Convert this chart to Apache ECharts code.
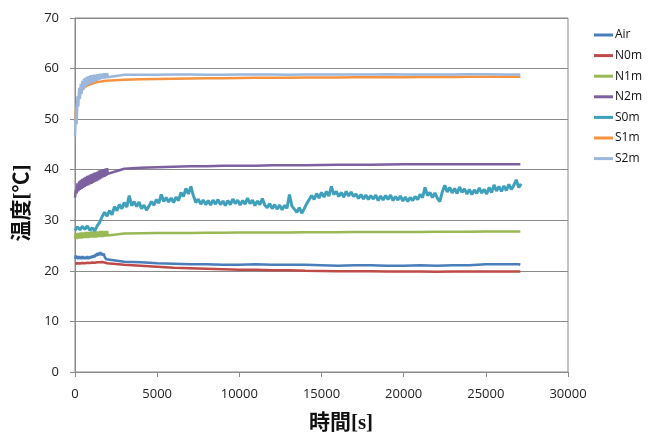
<!DOCTYPE html>
<html>
<head>
<meta charset="utf-8">
<script src="https://cdn.jsdelivr.net/npm/echarts@6/dist/echarts.min.js"></script>
<style>html,body{margin:0;padding:0;background:#fff}#c{width:655px;height:439px}</style>
</head>
<body>
<div id="c"></div>
<script>
// ---- data ----
const seriesNames = ['Air','N0m','N1m','N2m','S0m','S1m','S2m'];
const xTicks = [0,5000,10000,15000,20000,25000,30000];
const yTicks = [0,10,20,30,40,50,60,70];

// early phase sample times [s]
const earlyT = [0,50,100,150,200,250,300,350,400,450,500,550,600,650,700,750,800,850,900,950,1000,
  1050,1100,1150,1200,1250,1300,1350,1400,1450,1500,1550,1600,1650,1700,1750,1800,1850,1900,1950,2000];
// late phase sample times [s]
const lateT = [3000,4000,5000,6000,7000,8000,9000,10000,11000,12000,13000,14000,15000,16000,17000,
  18000,19000,20000,21000,22000,23000,24000,25000,26000,27000,27100];

const airEarly = [22.4,23.0,22.4,22.9,22.3,22.9,22.4,22.8,22.3,22.9,22.4,22.8,22.3,22.8,22.4,22.9,22.3,22.8,22.4,22.9,
  22.5,23.0,22.6,23.1,22.7,23.3,22.9,23.5,23.0,23.6,23.1,23.7,23.1,23.5,23.0,23.4,22.8,22.6,22.3,22.2,22.0];
const airLate = [21.8,21.7,21.5,21.4,21.3,21.3,21.2,21.2,21.3,21.2,21.2,21.2,21.1,21.0,21.1,21.1,21.0,21.0,21.1,21.0,
  21.1,21.1,21.3,21.3,21.3,21.2];

const n0Early = [21.4,21.5,21.4,21.5,21.4,21.5,21.45,21.5,21.45,21.55,21.5,21.55,21.5,21.55,21.5,21.6,21.5,21.6,21.55,21.6,
  21.55,21.65,21.6,21.65,21.6,21.7,21.65,21.7,21.65,21.75,21.7,21.75,21.7,21.75,21.7,21.7,21.65,21.6,21.55,21.5,21.45];
const n0Late = [21.2,21.0,20.8,20.6,20.5,20.4,20.3,20.2,20.2,20.1,20.1,20.0,19.95,19.9,19.9,19.9,19.85,19.85,19.85,19.8,
  19.85,19.85,19.85,19.85,19.85,19.85];

const n1Early = [26.4,27.4,26.3,27.5,26.4,27.5,26.4,27.6,26.4,27.6,26.5,27.6,26.5,27.7,26.5,27.7,26.5,27.7,26.6,27.7,
  26.6,27.8,26.6,27.8,26.6,27.8,26.6,27.8,26.7,27.8,26.7,27.9,26.7,27.9,26.7,27.9,26.8,27.9,26.8,27.9,27.0];
const n1Late = [27.4,27.45,27.5,27.5,27.5,27.55,27.55,27.6,27.6,27.6,27.6,27.65,27.65,27.65,27.7,27.7,27.7,27.7,27.7,27.75,
  27.75,27.75,27.8,27.8,27.8,27.8];

const n2Early = [34.5,36.0,35.3,37.3,35.7,37.7,36.0,38.0,36.2,38.2,36.4,38.4,36.6,38.6,36.8,38.8,36.9,38.9,37.1,39.1,
  37.2,39.2,37.4,39.4,37.6,39.5,37.7,39.6,37.9,39.8,38.1,39.9,38.3,40.0,38.5,40.1,38.6,40.2,38.8,40.3,39.2];
const n2Late = [40.2,40.4,40.5,40.6,40.7,40.7,40.8,40.8,40.8,40.9,40.9,40.9,40.95,41.0,41.0,41.0,41.05,41.1,41.1,41.1,
  41.1,41.1,41.1,41.1,41.1,41.1];

// S0m sampled every 150 s from 0 s
const s0Step = 150;
const s0Vals = [
  28.0,28.7,28.1,28.8,28.2,28.9,28.0,28.5,27.9,28.9,29.6,30.7,31.6,30.8,31.9,31.1,32.7,31.9,33.1,32.3,
  33.5,32.6,34.9,32.9,33.7,32.7,33.6,32.3,33.0,32.0,32.8,33.7,33.0,34.1,33.4,35.1,33.7,34.5,33.6,34.4,
  33.5,34.6,33.9,35.5,34.7,36.3,35.2,36.7,34.9,33.5,34.2,33.2,34.0,33.1,33.9,33.0,34.0,33.2,34.1,33.1,
  33.8,32.9,33.9,33.1,34.2,33.3,34.0,33.0,33.9,33.2,34.4,33.3,34.0,32.9,33.8,33.1,34.3,33.0,32.5,33.3,
  32.3,33.1,32.2,33.0,32.1,32.9,32.4,35.1,32.8,32.2,31.6,32.5,31.4,32.3,33.3,34.1,34.9,34.1,35.3,34.4,
  35.5,34.6,35.7,34.8,36.7,35.1,35.7,34.7,35.5,34.6,35.7,34.8,35.6,34.7,35.2,34.3,35.1,34.2,35.0,34.1,
  34.9,34.2,35.0,33.9,34.8,34.0,34.9,34.1,35.0,33.9,34.7,34.0,34.8,33.8,34.6,33.7,34.5,33.9,34.7,34.1,
  35.1,34.5,36.5,34.9,35.5,34.5,35.4,34.4,33.7,35.6,36.9,35.6,36.5,35.4,36.3,35.3,36.6,35.5,36.2,35.2,
  36.1,35.1,36.0,35.3,36.4,35.4,36.1,35.2,36.5,35.5,37.0,35.8,36.7,35.7,36.8,35.9,37.1,36.1,36.9,38.0,
  36.5,37.2];

const s1Early = [49.5,51.5,52.6,53.6,54.2,54.7,55.0,55.3,55.6,55.8,56.0,56.2,56.3,56.45,56.55,56.65,56.75,56.8,56.9,56.95,
  57.0,57.05,57.1,57.15,57.2,57.25,57.3,57.3,57.35,57.4,57.4,57.45,57.45,57.5,57.5,57.55,57.55,57.6,57.6,57.6,57.65];
const s1Late = [57.8,57.9,57.95,58.0,58.05,58.1,58.1,58.15,58.2,58.2,58.2,58.25,58.25,58.25,58.3,58.3,58.3,58.3,58.35,58.35,
  58.35,58.4,58.4,58.4,58.4,58.4];

const s2Early = [46.6,51.0,49.0,54.5,52.5,56.2,54.0,57.0,55.0,57.6,55.8,58.0,56.2,58.2,56.6,58.4,56.8,58.5,57.0,58.7,
  57.1,58.7,57.2,58.8,57.4,58.8,57.5,58.9,57.7,58.9,57.8,59.0,57.9,59.0,58.0,59.1,58.0,59.1,58.1,59.1,58.3];
const s2Late = [58.8,58.8,58.8,58.85,58.85,58.8,58.8,58.85,58.85,58.85,58.8,58.85,58.85,58.85,58.85,58.85,58.9,58.85,58.85,58.85,
  58.85,58.9,58.9,58.85,58.85,58.85];

const colors = ['#4A7EBB','#BE4B48','#98B954','#7D60A0','#3FA0BB','#F69240','#9BB7DB'];

// ---- build ----
function joinPhases(eV, lV) {
  const out = [];
  eV.forEach((v, i) => out.push([earlyT[i], v]));
  lV.forEach((v, i) => out.push([lateT[i], v]));
  return out;
}
const s0Data = s0Vals.map((v, i) => [i * s0Step, v]);
const dataSets = [
  joinPhases(airEarly, airLate),
  joinPhases(n0Early, n0Late),
  joinPhases(n1Early, n1Late),
  joinPhases(n2Early, n2Late),
  s0Data,
  joinPhases(s1Early, s1Late),
  joinPhases(s2Early, s2Late)
];
const widths = [2.5, 2.5, 2.5, 2.5, 3, 2.5, 2.5];

const chart = echarts.init(document.getElementById('c'), null, {renderer: 'canvas'});
const font = '"Open Sans", "Liberation Sans", sans-serif';
const titleFont = 'bold 21px "Liberation Serif", "Noto Sans CJK JP", serif';
chart.setOption({
  animation: false,
  color: colors,
  grid: {left: 75, top: 18, width: 493, height: 354, show: true, borderColor: '#8a8a8a', borderWidth: 1},
  xAxis: {
    type: 'value', min: xTicks[0], max: xTicks[xTicks.length - 1], interval: 5000,
    axisLine: {show: true, onZero: false, lineStyle: {color: '#8a8a8a'}},
    axisTick: {show: true, length: 5, lineStyle: {color: '#8a8a8a'}},
    axisLabel: {color: '#222', fontSize: 13, fontFamily: font, margin: 16, formatter: v => String(v)},
    splitLine: {show: false}
  },
  yAxis: {
    type: 'value', min: yTicks[0], max: yTicks[yTicks.length - 1], interval: 10,
    axisLine: {show: true, lineStyle: {color: '#8a8a8a'}},
    axisTick: {show: true, length: 5, lineStyle: {color: '#8a8a8a'}},
    axisLabel: {color: '#222', fontSize: 13, fontFamily: font, margin: 16, formatter: v => String(v)},
    splitLine: {show: true, lineStyle: {color: '#8a8a8a', width: 1}}
  },
  legend: {
    orient: 'vertical', left: 589, top: 23, itemWidth: 19, itemHeight: 3, itemGap: 6.6,
    icon: 'rect',
    textStyle: {color: '#111', fontSize: 12, fontFamily: font, padding: [0, 0, 0, -3], lineHeight: 14},
    data: seriesNames
  },
  graphic: [
    {type: 'text', x: 341, y: 424, style: {text: '時間[s]', font: titleFont, fill: '#111', align: 'center', verticalAlign: 'middle'}},
    {type: 'text', x: 23, y: 203, rotation: Math.PI / 2, style: {text: '温度[℃]', font: titleFont, fill: '#111', align: 'center', verticalAlign: 'middle'}}
  ],
  series: seriesNames.map((n, i) => ({
    name: n, type: 'line', data: dataSets[i], showSymbol: false, symbol: 'none',
    lineStyle: {width: widths[i], color: colors[i]}, itemStyle: {color: colors[i]},
    sampling: null, silent: true
  }))
});
</script>
</body>
</html>
